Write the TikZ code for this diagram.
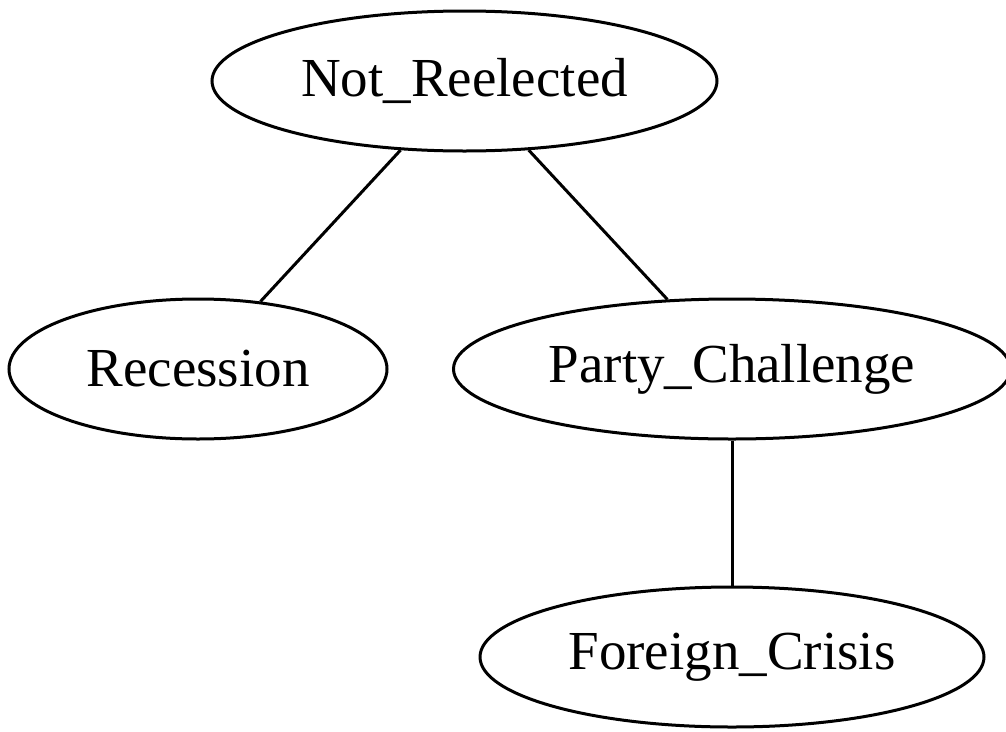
\documentclass[tikz,border=0pt]{standalone}
\usepackage{fontspec}
\setmainfont{Liberation Serif}
\usetikzlibrary{shapes.geometric}
\begin{document}
\begin{tikzpicture}[x=1pt,y=-1pt,
  event/.style={draw, ellipse, line width=3pt, inner sep=0pt,
    minimum height=140pt, font=\fontsize{55}{60}\selectfont},
  link/.style={line width=3pt}]
\useasboundingbox (0,0) rectangle (1006,731);
\node[event, minimum width=505pt] (nr) at (464.5,81) {Not\_Reelected};
\node[event, minimum width=378pt] (rec) at (198,369) {Recession};
\node[event, minimum width=557pt] (pc) at (732,369) {Party\_Challenge};
\node[event, minimum width=504pt] (fc) at (732,657) {Foreign\_Crisis};
\draw[link] (nr) -- (rec);
\draw[link] (nr) -- (pc);
\draw[link] (pc) -- (fc);
\end{tikzpicture}
\end{document}
